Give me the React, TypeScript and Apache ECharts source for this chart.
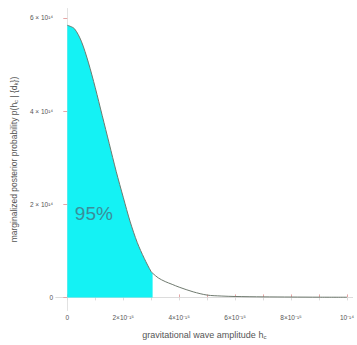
import React, { useEffect, useRef } from "react";
import * as echarts from "echarts";

// Amplitude h_c in units of 1e-15, posterior density in units of 1e14.
const hcValues = [0, 0.25, 0.5, 0.75, 1.0, 1.25, 1.5, 1.75, 2.0, 2.25, 2.5, 2.75, 3.0, 3.05, 3.25, 3.5, 3.75, 4.0, 4.5, 5.0, 5.5, 6.0, 7.0, 8.0, 9.0, 10.0];
const posterior = [5.84, 5.77, 5.5, 5.05, 4.5, 3.9, 3.3, 2.7, 2.15, 1.62, 1.18, 0.84, 0.55, 0.52, 0.42, 0.34, 0.28, 0.22, 0.12, 0.05, 0.03, 0.02, 0.012, 0.008, 0.005, 0.004];
// Upper bound of the 95% credible region (units of 1e-15).
const upperLimit = 3.05;
const credibleLabel = "95%";

const xTickValues = [0, 2, 4, 6, 8, 10];
const xTickLabels = ["0", "2×10⁻¹⁵", "4×10⁻¹⁵", "6×10⁻¹⁵", "8×10⁻¹⁵", "10⁻¹⁴"];
const xMinorTicks = [0, 1, 2, 3, 4, 5, 6, 7, 8, 9, 10];
const yTickValues = [0, 2, 4, 6];
const yTickLabels = ["0", "2 × 10¹⁴", "4 × 10¹⁴", "6 × 10¹⁴"];

const xName = "gravitational wave amplitude h{sub|c}";
const yName = "marginalized posterior probability p(h{sub|c} | {d{sub|k}})";

export default function App() {
  const ref = useRef<HTMLDivElement>(null);

  useEffect(() => {
    if (!ref.current) return;
    const chart = echarts.init(ref.current, null, { renderer: "svg" });

    const curve = hcValues.map((h, i) => [h, posterior[i]]);
    const filled = curve.filter(([h]) => h <= upperLimit);

    const font = "Liberation Sans";
    const frameColor = "#c4c4c4";
    const tickColor = "#e6a6a6";
    const textColor = "#555";
    const subStyle = { fontSize: 6, verticalAlign: "bottom" as const, lineHeight: 11, color: textColor, fontFamily: font };
    const mainStyle = { fontSize: 9, lineHeight: 11, color: textColor, fontFamily: font };

    chart.setOption({
      animation: false,
      backgroundColor: "#ffffff",
      grid: { left: 52, top: 9, right: 4, bottom: 29, containLabel: false },
      xAxis: [
        {
          type: "value",
          min: -0.4,
          max: 10.2,
          name: xName,
          nameLocation: "middle",
          nameGap: 19,
          nameTextStyle: { ...mainStyle, rich: { sub: subStyle } },
          axisLine: { show: true, lineStyle: { color: frameColor, width: 1 } },
          axisTick: {
            show: true,
            inside: true,
            length: 3,
            customValues: xMinorTicks,
            lineStyle: { color: tickColor },
          },
          axisLabel: {
            customValues: xTickValues,
            formatter: (v: number) => xTickLabels[xTickValues.indexOf(Math.round(v))] ?? "",
            fontSize: 6.5,
            color: textColor,
            fontFamily: font,
            margin: 4,
          },
          splitLine: { show: false },
        },
        {
          type: "value",
          position: "top",
          min: -0.4,
          max: 10.2,
          axisLine: { show: true, lineStyle: { color: "#dcdcdc", width: 1 } },
          axisTick: {
            show: true,
            inside: true,
            length: 3,
            customValues: xMinorTicks,
            lineStyle: { color: "#dcdcdc" },
          },
          axisLabel: { show: false },
          splitLine: { show: false },
        },
      ],
      yAxis: [
        {
          type: "value",
          min: -0.27,
          max: 6.19,
          name: yName,
          nameLocation: "middle",
          nameGap: 36,
          nameTextStyle: { ...mainStyle, fontSize: 8.5, rich: { sub: subStyle } },
          axisLine: { show: true, lineStyle: { color: frameColor, width: 1 } },
          axisTick: {
            show: true,
            inside: false,
            length: 4,
            customValues: yTickValues,
            lineStyle: { color: tickColor },
          },
          axisLabel: {
            customValues: yTickValues,
            formatter: (v: number) => yTickLabels[yTickValues.indexOf(Math.round(v))] ?? "",
            fontSize: 6.5,
            color: textColor,
            fontFamily: font,
            margin: 3,
          },
          splitLine: { show: false },
        },
        {
          type: "value",
          position: "right",
          min: -0.27,
          max: 6.19,
          axisLine: { show: true, lineStyle: { color: "#e2e2e2", width: 1 } },
          axisTick: { show: false },
          axisLabel: { show: false },
          splitLine: { show: false },
        },
      ],
      series: [
        {
          type: "line",
          data: filled,
          xAxisIndex: 0,
          yAxisIndex: 0,
          showSymbol: false,
          smooth: 0.3,
          lineStyle: { width: 0 },
          areaStyle: { color: "#14f2f4", opacity: 1, origin: 0 },
          markPoint: {
            symbol: "rect",
            symbolSize: 0,
            data: [{ coord: [0.95, 1.81] }],
            label: {
              show: true,
              formatter: credibleLabel,
              position: "inside",
              fontSize: 19,
              color: "#3a8e9a",
              fontFamily: font,
            },
          },
          z: 2,
        },
        {
          type: "line",
          data: curve,
          xAxisIndex: 0,
          yAxisIndex: 0,
          showSymbol: false,
          smooth: 0.3,
          lineStyle: { width: 1, color: "#6f7a6f" },
          z: 3,
        },
      ],
    });

    return () => chart.dispose();
  }, []);

  return (
    <div
      ref={ref}
      style={{ position: "fixed", left: 0, top: 0, width: 357, height: 345, overflow: "hidden" }}
    />
  );
}
